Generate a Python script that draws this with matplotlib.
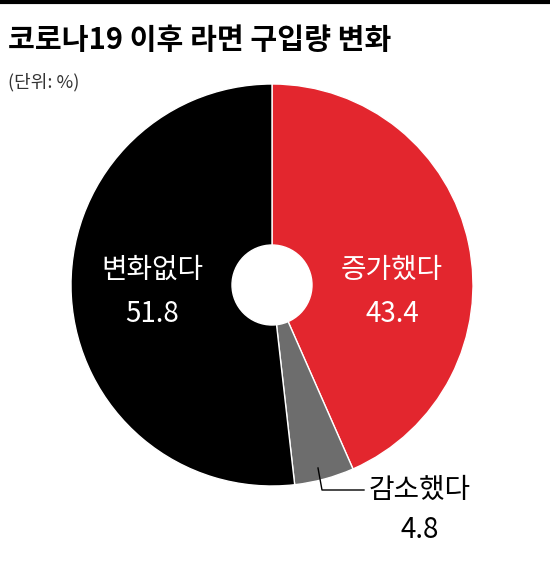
import matplotlib
matplotlib.use("Agg")
import matplotlib.pyplot as plt

plt.rcParams['font.family'] = ['Noto Sans CJK KR', 'DejaVu Sans']

labels = ["증가했다", "감소했다", "변화없다"]
values = [43.4, 4.8, 51.8]
colors = ["#e3262e", "#6d6d6d", "#000000"]

W, H = 550, 564
fig = plt.figure(figsize=(W / 100, H / 100), dpi=100)
fig.patch.set_facecolor("white")

# top rule + title
fig.add_artist(plt.Line2D([0, 1], [1 - 2 / H, 1 - 2 / H], color="black", lw=3))
fig.text(8 / W, 1 - 40 / H, "코로나19 이후 라면 구입량 변화", fontsize=21,
         fontweight="bold", va="center", ha="left")
fig.text(8 / W, 1 - 82 / H, "(단위: %)", fontsize=13, va="center", ha="left",
         color="#333333")

cx, cy, r = 272, 285, 201
ax = fig.add_axes([(cx - r) / W, 1 - (cy + r) / H, 2 * r / W, 2 * r / H])
ax.pie(values, colors=colors, startangle=90, counterclock=False,
       wedgeprops=dict(edgecolor="white", linewidth=1))
ax.add_patch(plt.Circle((0, 0), 40 / r, color="white", zorder=5))
ax.set_xlim(-1, 1)
ax.set_ylim(-1, 1)
ax.set_aspect("auto")
ax.axis("off")

def px(x, y):
    return ((x - cx) / r, (cy - y) / r)

for text, (x, y), col in [
    ("변화없다", (152, 270), "white"), (f"{values[2]}", (152, 314), "white"),
    ("증가했다", (392, 270), "white"), (f"{values[0]}", (392, 314), "white"),
]:
    ax.text(*px(x, y), text, color=col, fontsize=20, ha="center", va="center", zorder=6)

# leader for small slice
lx, ly = zip(px(318, 468), px(322, 490), px(364, 490))
ax.plot(lx, ly, color="black", lw=1, clip_on=False)
ax.text(*px(420, 490), labels[1], fontsize=20, ha="center", va="center", clip_on=False)
ax.text(*px(420, 530), f"{values[1]}", fontsize=20, ha="center", va="center", clip_on=False)

fig.savefig("out.png", dpi=100)
